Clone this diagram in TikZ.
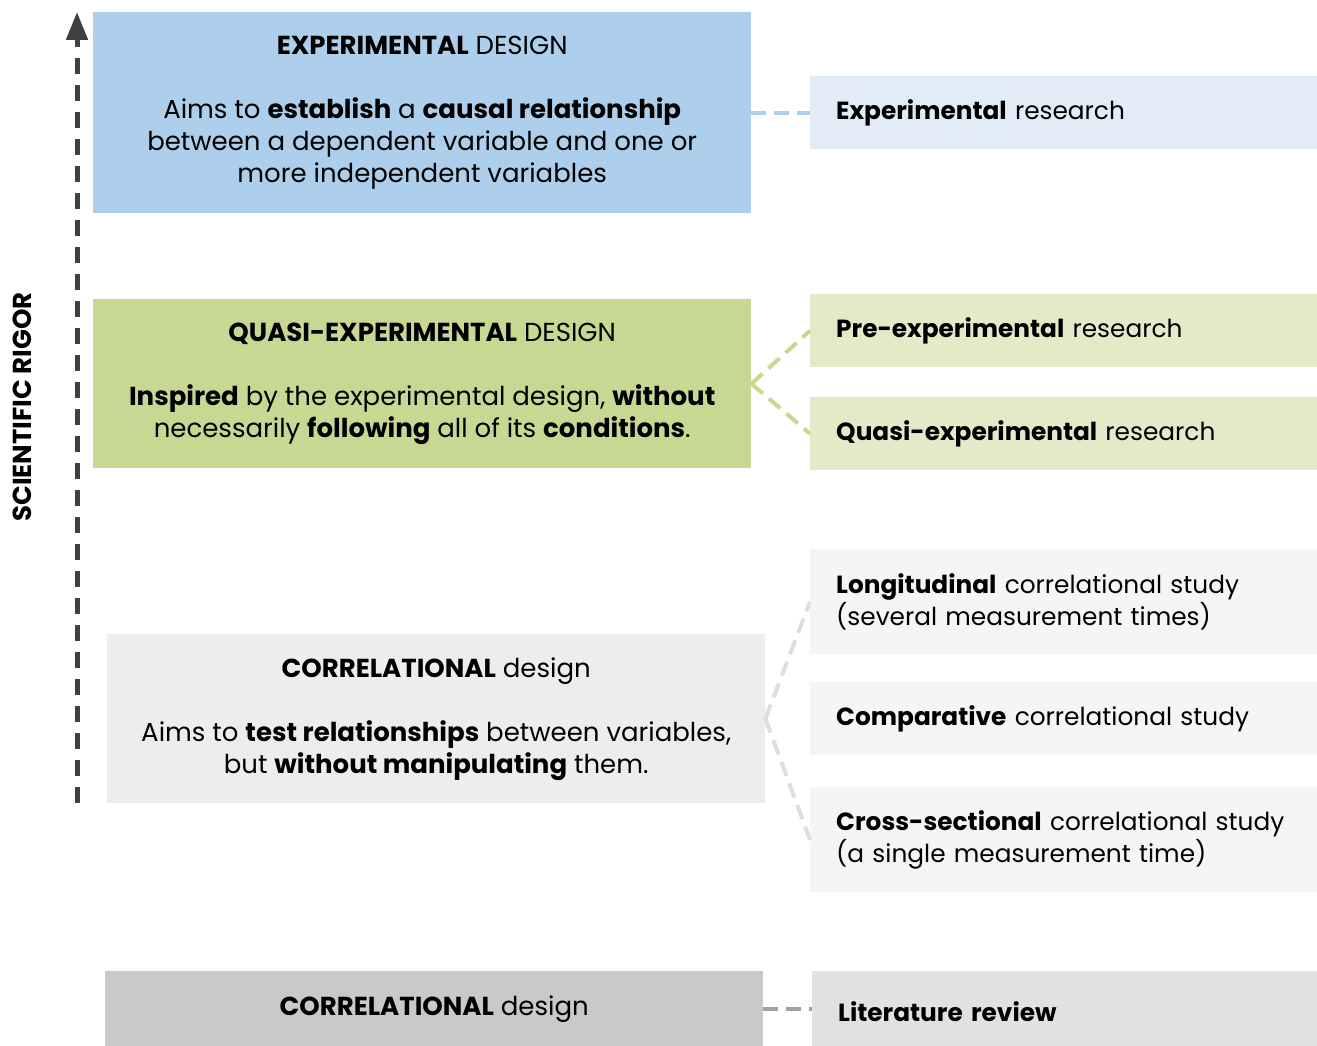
\documentclass[tikz,border=0pt]{standalone}
\usepackage{fontspec}
\setmainfont{Poppins}
\usetikzlibrary{arrows.meta}

\definecolor{expdark}{RGB}{174,207,235}
\definecolor{explight}{RGB}{225,236,247}
\definecolor{quasidark}{RGB}{200,216,147}
\definecolor{quasilight}{RGB}{227,234,200}
\definecolor{corrdark}{RGB}{236,238,237}
\definecolor{corrlight}{RGB}{245,245,245}
\definecolor{litdark}{RGB}{200,201,203}
\definecolor{litlight}{RGB}{224,225,227}
\definecolor{linkgrey}{RGB}{222,222,222}
\definecolor{linkdark}{RGB}{160,160,160}
\definecolor{axisgrey}{RGB}{64,64,64}

\tikzset{
  design/.style={anchor=north west, inner sep=0pt, minimum width=658pt,
    align=center, font=\fontsize{26}{32}\selectfont, text=black},
  kind/.style={anchor=north west, inner ysep=0pt, inner xsep=26pt,
    minimum width=507pt, text width=455pt, align=left,
    font=\fontsize{24.8}{32}\selectfont, text=black},
  link/.style={dashed, dash pattern=on 15pt off 8pt, line width=4pt},
}

\begin{document}
\begin{tikzpicture}[x=1pt, y=-1pt]
\useasboundingbox (0,0) rectangle (1317,1046);

% design levels
\node[design, fill=expdark, minimum height=201pt] (ed) at (93,12)
  {\textbf{EXPERIMENTAL} DESIGN\\[32pt]
   Aims to \textbf{establish} a \textbf{causal relationship}\\
   between a dependent variable and one or\\
   more independent variables};
\node[design, fill=quasidark, minimum height=169pt] (qd) at (93,299)
  {\textbf{QUASI-EXPERIMENTAL} DESIGN\\[32pt]
   \textbf{Inspired} by the experimental design, \textbf{without}\\
   necessarily \textbf{following} all of its \textbf{conditions}.};
\node[design, fill=corrdark, minimum height=169pt] (cd) at (107,634)
  {\textbf{CORRELATIONAL} design\\[32pt]
   Aims to \textbf{test relationships} between variables,\\
   but \textbf{without manipulating} them.};
\node[design, fill=litdark, minimum height=75pt] (ld) at (105,971)
  {\textbf{CORRELATIONAL} design};

% kinds of study
\node[kind, fill=explight, minimum height=73pt] (er) at (810,76)
  {\textbf{Experimental} research};
\node[kind, fill=quasilight, minimum height=73pt] (pr) at (810,294)
  {\textbf{Pre-experimental} research};
\node[kind, fill=quasilight, minimum height=73pt] (qr) at (810,397)
  {\textbf{Quasi-experimental} research};
\node[kind, fill=corrlight, minimum height=105pt] (lo) at (810,549)
  {\textbf{Longitudinal} correlational study\\(several measurement times)};
\node[kind, fill=corrlight, minimum height=73pt] (co) at (810,682)
  {\textbf{Comparative} correlational study};
\node[kind, fill=corrlight, minimum height=105pt] (cs) at (810,787)
  {\mbox{\textbf{Cross-sectional} correlational study}\\(a single measurement time)};
\node[kind, fill=litlight, minimum height=75pt, minimum width=505pt] (lr) at (812,971)
  {\raisebox{-13pt}[0pt][0pt]{\textbf{Literature review}}};

% links
\draw[link, expdark] (ed.east) -- (er.west);
\draw[link, quasidark] (qd.east) -- (pr.west);
\draw[link, quasidark] (qd.east) -- (qr.west);
\draw[link, linkgrey] (cd.east) -- (lo.west);
\draw[link, linkgrey] (cd.east) -- (cs.west);
\draw[link, linkdark] (ld.east) -- (lr.west);

% rigor axis
\coordinate (axbot) at (77,803);
\coordinate (axtop) at (77,12);
\draw[axisgrey, line width=5pt, dash pattern=on 16pt off 11pt,
  -{Triangle[width=21pt, length=28pt]}] (axbot) -- (axtop);
\node[rotate=90, font=\fontsize{26}{30}\selectfont\bfseries, text=black]
  (rigor) at (22,407) {SCIENTIFIC RIGOR};
\end{tikzpicture}
\end{document}
